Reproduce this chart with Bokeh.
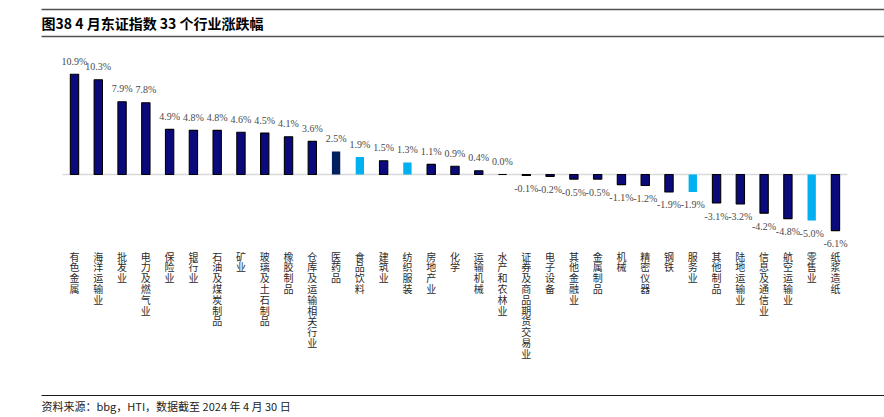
from bokeh.plotting import figure
from bokeh.models import ColumnDataSource, Range1d
from bokeh.core.properties import value
from bokeh.embed import file_html
from bokeh.resources import INLINE

# ---- data ----
categories = [
    "有色金属", "海洋运输业", "批发业", "电力及燃气业", "保险业", "银行业",
    "石油及煤炭制品", "矿业", "玻璃及土石制品", "橡胶制品", "仓库及运输相关行业",
    "医药品", "食品饮料", "建筑业", "纺织服装", "房地产业", "化学", "运输机械",
    "水产和农林业", "证券及商品期货交易业", "电子设备", "其他金融业", "金属制品",
    "机械", "精密仪器", "钢铁", "服务业", "其他制品", "陆地运输业", "信息及通信业",
    "航空运输业", "零售业", "纸浆造纸",
]
changes = [
    10.9, 10.3, 7.9, 7.8, 4.9, 4.8, 4.8, 4.6, 4.5, 4.1, 3.6,
    2.5, 1.9, 1.5, 1.3, 1.1, 0.9, 0.4, 0.0, -0.1, -0.2, -0.5, -0.5,
    -1.1, -1.2, -1.9, -1.9, -3.1, -3.2, -4.2, -4.8, -5.0, -6.1,
]
title_text = "图38 4 月东证指数 33 个行业涨跌幅"
source_text = "资料来源：bbg，HTI，数据截至 2024 年 4 月 30 日"

# ---- styles ----
light_set = {"食品饮料", "纺织服装", "服务业", "零售业"}
mid_set = {"医药品"}
NAVY = "#0a0a7c"
LIGHT = "#00b0f0"
MID = "#002060"

W, H = 884, 417
X0PX, DX = 74.0, 23.78      # px of first bar centre, px per category
Y0PX, DY = 174.0, 9.2       # px of zero line, px per percent

p = figure(width=W, height=H, output_backend="svg", toolbar_location=None,
           x_range=Range1d(-X0PX / DX, (W - X0PX) / DX),
           y_range=Range1d(-(H - Y0PX) / DY, Y0PX / DY),
           x_axis_location=None, y_axis_location=None, min_border=0)
p.outline_line_color = None
for g in p.grid:
    g.visible = False
p.background_fill_color = "white"
p.border_fill_color = "white"


def dx(px):
    return -X0PX / DX + px / DX


def dy(py):
    return (Y0PX - py) / DY


n = len(categories)
xs = list(range(n))
fills = [LIGHT if c in light_set else MID if c in mid_set else NAVY for c in categories]
lines = [None if c in light_set or c in mid_set else "#000000" for c in categories]
labels = [f"{v:.1f}%" for v in changes]

src = ColumnDataSource(dict(x=xs, v=changes, fill=fills, line=lines, lab=labels))

# zero line
p.segment(x0=[-0.5], x1=[n - 0.5], y0=[0], y1=[0], line_color="#d9d9d9", line_width=1.6)

# bars
p.vbar(x="x", top="v", bottom=0, width=0.35, fill_color="fill", line_color="line",
       line_width=1.1, source=src)

# value labels
pos = ColumnDataSource(dict(x=[x for x, v in zip(xs, changes) if v >= 0],
                            v=[v for v in changes if v >= 0],
                            lab=[l for l, v in zip(labels, changes) if v >= 0]))
neg = ColumnDataSource(dict(x=[x for x, v in zip(xs, changes) if v < 0],
                            v=[v for v in changes if v < 0],
                            lab=[l for l, v in zip(labels, changes) if v < 0]))
common = dict(text="lab", text_align="center", text_baseline="middle",
              text_font=value("Liberation Serif"), text_font_size="10px",
              text_color="#4a4a4a")
p.text(x="x", y="v", y_offset=-13, source=pos, **common)
p.text(x="x", y="v", y_offset=13, source=neg, **common)

# category labels (stacked vertically, one character per row)
PITCH = 10.8
cx, cy, ct = [], [], []
for i, c in enumerate(categories):
    for k, ch in enumerate(c):
        cx.append(i)
        cy.append(dy(255.5 + PITCH * k))
        ct.append(ch)
p.text(x=cx, y=cy, text=ct, text_align="center", text_baseline="middle",
       text_font=value("Noto Sans CJK SC"), text_font_size="10px",
       text_color="#2a2a2a")

# title and rules
p.segment(x0=[dx(41)], x1=[dx(W)], y0=[dy(9)], y1=[dy(9)], line_color="#505050", line_width=1.6)
p.segment(x0=[dx(41)], x1=[dx(W)], y0=[dy(36)], y1=[dy(36)], line_color="#505050", line_width=1.6)
p.text(x=[dx(41)], y=[dy(22.5)], text=[title_text], text_align="left", text_baseline="middle",
       text_font=value("Noto Sans CJK SC"), text_font_style="bold", text_font_size="14px",
       text_color="#000000")

p.segment(x0=[dx(41)], x1=[dx(W)], y0=[dy(395)], y1=[dy(395)], line_color="#1a1a1a", line_width=1.2)
p.text(x=[dx(41)], y=[dy(405)], text=[source_text], text_align="left", text_baseline="middle",
       text_font=value("Noto Sans CJK SC"), text_font_size="11px", text_color="#222222")

open("out.html", "w").write(file_html(p, INLINE))
